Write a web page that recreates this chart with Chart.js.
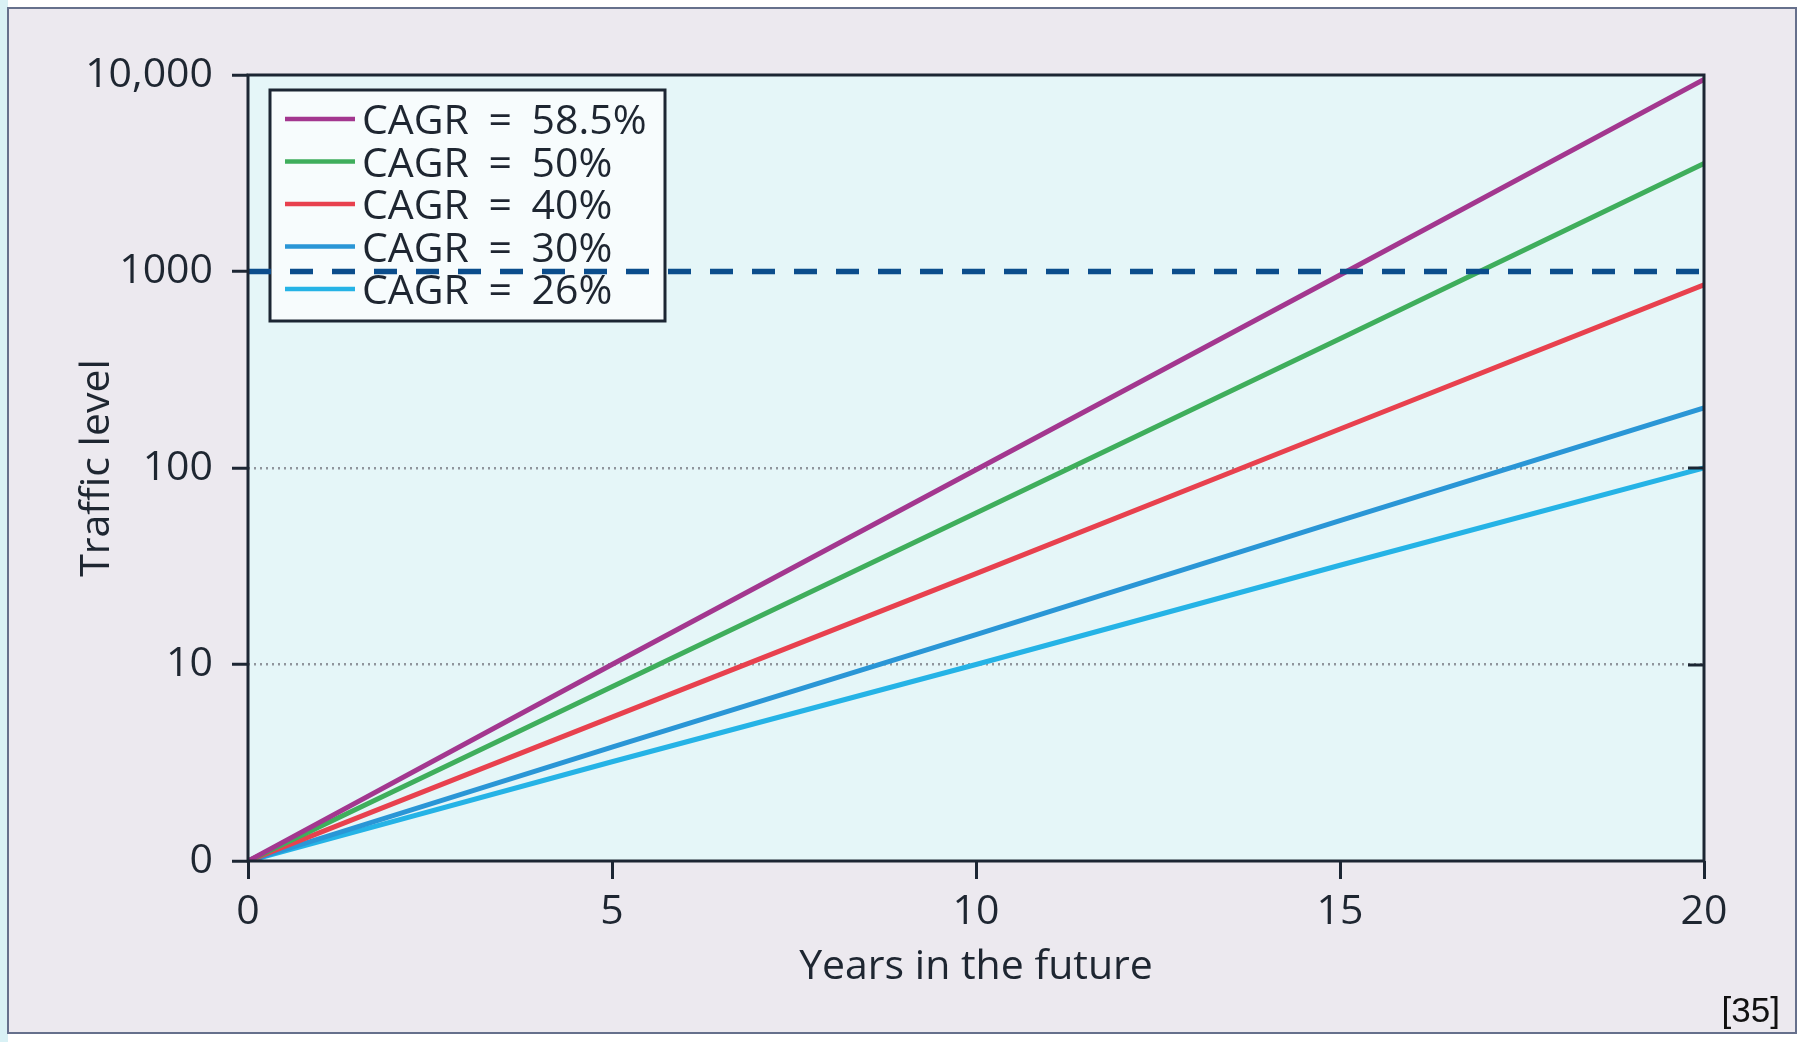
<!DOCTYPE html>
<html><head><meta charset="utf-8">
<script src="https://cdn.jsdelivr.net/npm/chart.js@4.4.0/dist/chart.umd.min.js"></script>
<style>html,body{margin:0;padding:0;background:#fff;overflow:hidden}#wrap{position:relative;width:1803px;height:1042px}canvas{display:block}</style>
</head><body><div id="wrap"><canvas id="c" width="1803" height="1042"></canvas></div>
<script>
// ---- data ----
const years = [0, 5, 10, 15, 20];
const seriesLabels = ['CAGR = 58.5%', 'CAGR = 50%', 'CAGR = 40%', 'CAGR = 30%', 'CAGR = 26%'];
const cagr585 = [1, 10, 98, 960, 9500];
const cagr50 = [1, 7.7, 59, 455, 3550];
const cagr40 = [1, 5.4, 29, 158, 855];
const cagr30 = [1, 3.8, 14.2, 54, 202];
const cagr26 = [1, 3.2, 10, 32, 100];
const targetYears = [0, 20];
const targetLevel = [1000, 1000];
const yTickValues = [1, 10, 100, 1000, 10000];
const yTickLabels = ['0', '10', '100', '1000', '10,000'];
const xTickValues = [0, 5, 10, 15, 20];
const xTitle = 'Years in the future';
const yTitle = 'Traffic level';
const sourceNote = '[35]';

const seriesValues = [cagr585, cagr50, cagr40, cagr30, cagr26];
const seriesColors = ['#a3378f', '#3fae5c', '#e8414e', '#2a96d6', '#25b3e6'];
const FONT = "'Open Sans', sans-serif";
const FS = 41;
const INK = '#1e2631';
const AXIS = '#1c2633';

const toXY = (xs, ys) => xs.map((x, i) => ({x: x, y: ys[i]}));
const datasets = seriesValues.map((vals, i) => ({
  label: seriesLabels[i],
  data: toXY(years, vals),
  borderColor: seriesColors[i],
  backgroundColor: seriesColors[i],
  borderWidth: 5,
  pointRadius: 0,
  tension: 0,
  order: i
}));
datasets.push({
  label: 'target',
  data: toXY(targetYears, targetLevel),
  borderColor: '#0b4d8c',
  borderWidth: 5.5,
  borderDash: [23, 19],
  pointRadius: 0,
  order: -1
});

const framePlugin = {
  id: 'frame',
  beforeDraw(chart) {
    const c = chart.ctx, a = chart.chartArea;
    c.save();
    c.fillStyle = '#ffffff'; c.fillRect(0, 0, 1803, 1042);
    c.fillStyle = '#d9f1f5'; c.fillRect(0, 0, 8, 1042);
    c.fillStyle = '#ece9ef'; c.fillRect(8, 8, 1788, 1025);
    c.strokeStyle = '#66708c'; c.lineWidth = 2; c.strokeRect(8, 8, 1788, 1025);
    c.fillStyle = '#e5f6f8'; c.fillRect(a.left, a.top, a.right - a.left, a.bottom - a.top);
    c.restore();
  },
  beforeDatasetsDraw(chart) {
    // legend box inside plot (drawn before lines so the dashed line crosses it)
    const c = chart.ctx;
    const bx = 270, by = 90, bw = 395, bh = 231;
    c.save();
    c.fillStyle = '#f7fcfd'; c.fillRect(bx, by, bw, bh);
    c.strokeStyle = AXIS; c.lineWidth = 3; c.strokeRect(bx, by, bw, bh);
    c.font = FS + "px " + FONT; c.fillStyle = INK; c.textBaseline = 'alphabetic';
    try { c.wordSpacing = '9px'; } catch (e) {}
    chart.data.datasets.slice(0, seriesLabels.length).forEach((ds, i) => {
      const cy = 119 + i * 42.5;
      c.strokeStyle = ds.borderColor; c.lineWidth = 4.5;
      c.beginPath(); c.moveTo(285, cy); c.lineTo(355, cy); c.stroke();
      c.fillText(ds.label, 362, cy + 15);
    });
    c.restore();
  },
  afterDraw(chart) {
    const c = chart.ctx, a = chart.chartArea, ys = chart.scales.y;
    c.save();
    c.strokeStyle = AXIS; c.lineWidth = 3;
    c.strokeRect(a.left, a.top, a.right - a.left, a.bottom - a.top);
    [10, 100].forEach(v => {
      const py = Math.round(ys.getPixelForValue(v));
      c.beginPath(); c.moveTo(a.right - 16, py); c.lineTo(a.right, py); c.stroke();
    });
    c.font = "35px 'Liberation Sans', Arial, sans-serif"; c.fillStyle = '#111';
    c.textAlign = 'right'; c.textBaseline = 'alphabetic';
    c.fillText(sourceNote, 1780, 1022);
    c.restore();
  }
};

new Chart(document.getElementById('c'), {
  type: 'line',
  data: {datasets: datasets},
  plugins: [framePlugin],
  options: {
    responsive: false,
    animation: false,
    devicePixelRatio: 1,
    layout: {padding: {top: 75, right: 99, bottom: 0, left: 0}},
    plugins: {legend: {display: false}, tooltip: {enabled: false}},
    scales: {
      x: {
        type: 'linear', min: 0, max: 20,
        afterFit: s => { s.height = 181; },
        afterBuildTicks: s => { s.ticks = xTickValues.map(v => ({value: v})); },
        grid: {drawOnChartArea: false, drawTicks: true, tickLength: 18, tickWidth: 3, tickColor: AXIS, color: AXIS},
        border: {display: false},
        ticks: {color: INK, font: {family: FONT, size: FS}, padding: 9, maxRotation: 0, autoSkip: false},
        title: {display: true, text: xTitle, color: INK, font: {family: FONT, size: FS}, padding: {top: 0, bottom: 50}}
      },
      y: {
        type: 'logarithmic', min: 1, max: 10000,
        afterFit: s => { s.width = 248; },
        afterBuildTicks: s => { s.ticks = yTickValues.map(v => ({value: v})); },
        grid: {
          drawOnChartArea: true, drawTicks: true, tickLength: 16, tickWidth: 3, tickColor: AXIS,
          lineWidth: 2.5,
          color: c => (c.tick && (c.tick.value === 10 || c.tick.value === 100)) ? '#8f959c' : 'rgba(0,0,0,0)'
        },
        border: {display: false, dash: [2, 4]},
        ticks: {
          color: INK, font: {family: FONT, size: FS}, padding: 19, autoSkip: false,
          callback: v => { const k = yTickValues.indexOf(v); return k >= 0 ? yTickLabels[k] : ''; }
        },
        title: {display: true, text: yTitle, color: INK, font: {family: FONT, size: FS}, padding: {top: 73, bottom: 0}}
      }
    }
  }
});
</script></body></html>
